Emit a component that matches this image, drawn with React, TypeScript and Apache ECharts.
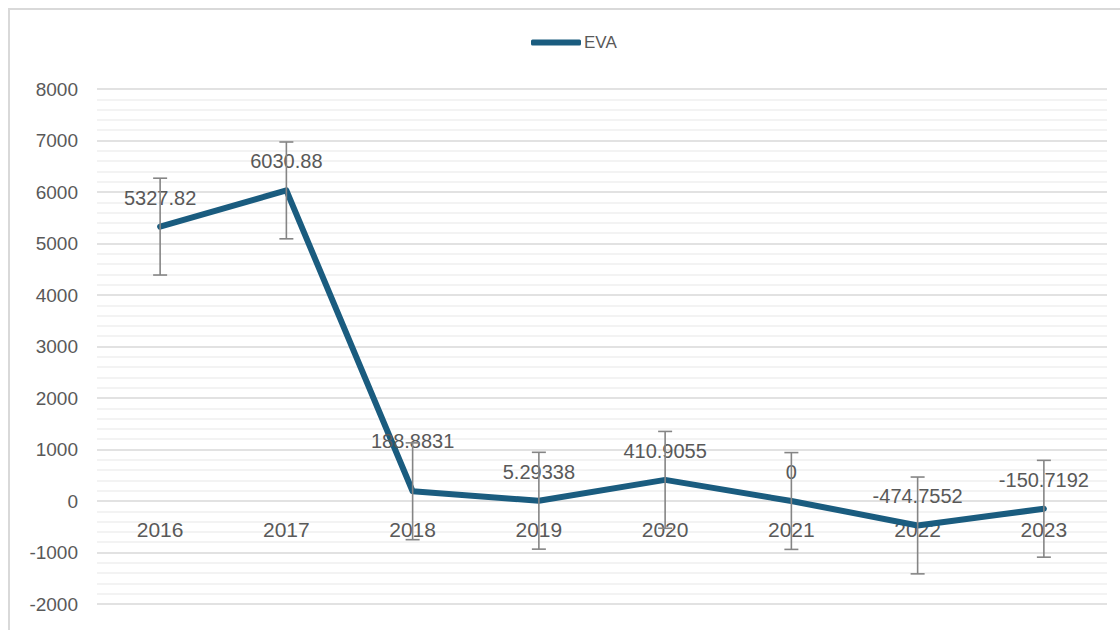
import React, { useEffect, useRef } from "react";
import * as echarts from "echarts";

const categories = ["2016", "2017", "2018", "2019", "2020", "2021", "2022", "2023"];
const evaValues = [5327.82, 6030.88, 188.8831, 5.29338, 410.9055, 0, -474.7552, -150.7192];
const valueLabels = ["5327.82", "6030.88", "188.8831", "5.29338", "410.9055", "0", "-474.7552", "-150.7192"];
const errorAmounts = [940, 940, 940, 940, 940, 940, 940, 940];
const yTicks = { min: -2000, max: 8000, interval: 1000 };

const LINE_COLOR = "#1a5c7f";
const TEXT_COLOR = "#595959";
const FONT = "'Liberation Sans', Arial, sans-serif";

export default function App() {
  const ref = useRef<HTMLDivElement>(null);
  useEffect(() => {
    if (!ref.current) return;
    document.body.style.overflow = "hidden";
    const chart = echarts.init(ref.current, undefined, { renderer: "svg" });
    const lineData = evaValues.map((v, i) => ({
      value: v,
      label: { distance: i === 2 ? 40 : 19 },
    }));
    const errData = evaValues.map((v, i) => [i, v - errorAmounts[i], v + errorAmounts[i]]);
    const catLabelData = categories.map((c, i) => [i, 0]);
    chart.setOption({
      animation: false,
      textStyle: { fontFamily: FONT },
      legend: {
        data: [{ name: "EVA", icon: "roundRect" }],
        left: 521,
        top: 24,
        padding: 0,
        itemWidth: 50,
        itemHeight: 6,
        itemGap: 10,
        textStyle: { fontSize: 17, color: TEXT_COLOR, fontFamily: FONT, padding: [0, 0, 0, -2] },
      },
      grid: {
        left: 87,
        right: 13,
        top: 79,
        bottom: 26,
        containLabel: false,
        outerBoundsMode: "none",
      },
      xAxis: {
        type: "category",
        data: categories,
        boundaryGap: true,
        axisLine: { show: false },
        axisTick: { show: false },
        axisLabel: { show: false },
        splitLine: { show: false },
      },
      yAxis: {
        type: "value",
        min: yTicks.min,
        max: yTicks.max,
        interval: yTicks.interval,
        axisLine: { show: false },
        axisTick: { show: false },
        axisLabel: {
          fontSize: 19,
          color: TEXT_COLOR,
          margin: 19,
          fontFamily: FONT,
          formatter: (v: number) => String(v),
        },
        splitLine: { lineStyle: { color: "#d9d9d9", width: 1.5 } },
        minorTick: { show: false, splitNumber: 5 },
        minorSplitLine: { show: true, lineStyle: { color: "#efefef", width: 1.5 } },
      },
      series: [
        {
          name: "xlabels",
          type: "custom",
          data: catLabelData,
          silent: true,
          z: 1,
          renderItem: (params: any, api: any) => {
            const p = api.coord([api.value(0), api.value(1)]);
            return {
              type: "text",
              x: p[0],
              y: p[1] + 28,
              style: {
                text: categories[params.dataIndex],
                fill: TEXT_COLOR,
                font: `21px ${FONT}`,
                align: "center",
                verticalAlign: "middle",
              },
            };
          },
        },
        {
          name: "EVA",
          type: "line",
          data: lineData,
          symbol: "circle",
          symbolSize: 0.1,
          itemStyle: { color: LINE_COLOR },
          lineStyle: { color: LINE_COLOR, width: 6, cap: "round", join: "round" },
          label: {
            show: true,
            position: "top",
            fontSize: 20,
            color: TEXT_COLOR,
            fontFamily: FONT,
            formatter: (p: any) => valueLabels[p.dataIndex],
          },
          z: 2,
        },
        {
          name: "err",
          type: "custom",
          data: errData,
          z: 5,
          silent: true,
          renderItem: (params: any, api: any) => {
            const x = api.coord([api.value(0), 0])[0];
            const lo = api.coord([api.value(0), api.value(1)])[1];
            const hi = api.coord([api.value(0), api.value(2)])[1];
            const w = 7;
            const style = { stroke: "#858585", lineWidth: 1.6 };
            return {
              type: "group",
              children: [
                { type: "line", shape: { x1: x, y1: lo, x2: x, y2: hi }, style },
                { type: "line", shape: { x1: x - w, y1: lo, x2: x + w, y2: lo }, style },
                { type: "line", shape: { x1: x - w, y1: hi, x2: x + w, y2: hi }, style },
              ],
            };
          },
        },
      ],
    });
    return () => chart.dispose();
  }, []);
  return (
    <div
      style={{
        position: "fixed",
        left: 8,
        top: 8,
        borderLeft: "2px solid #d9d9d9",
        borderTop: "2px solid #d9d9d9",
        width: 1110,
        height: 620,
        background: "#fff",
      }}
    >
      <div ref={ref} style={{ width: 1110, height: 620 }} />
    </div>
  );
}
